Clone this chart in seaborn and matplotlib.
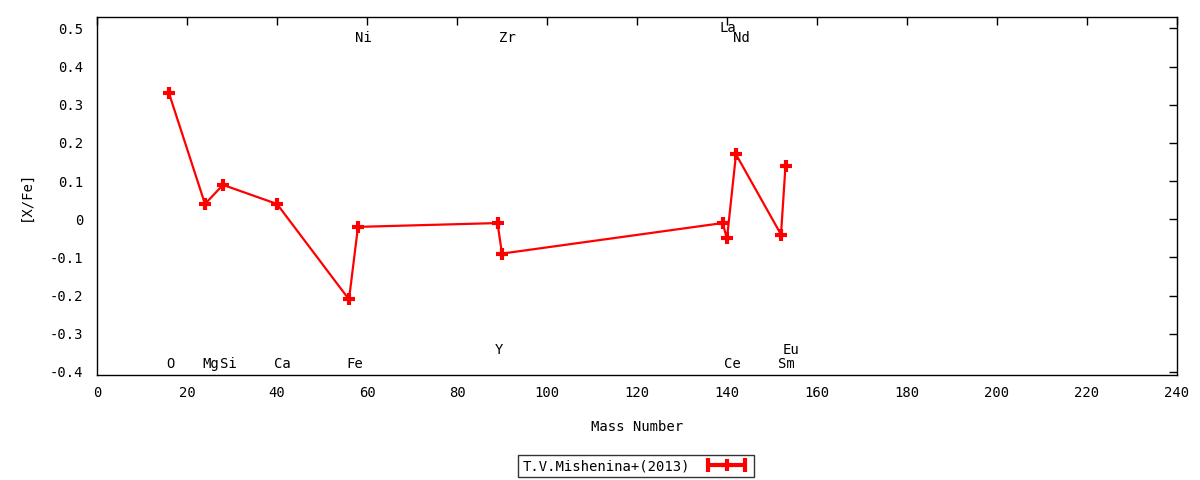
import matplotlib
matplotlib.use("Agg")
import matplotlib.pyplot as plt
import seaborn as sns
import pandas as pd
from matplotlib.lines import Line2D
from matplotlib.legend_handler import HandlerLine2D, HandlerTuple
from matplotlib.ticker import FuncFormatter, MultipleLocator
import matplotlib.transforms as mtrans

elements = ["O", "Mg", "Si", "Ca", "Fe", "Ni", "Y", "Zr", "La", "Ce", "Nd", "Sm", "Eu"]
mass = [16, 24, 28, 40, 56, 58, 89, 90, 139, 140, 142, 152, 153]
xfe = [0.33, 0.04, 0.09, 0.04, -0.21, -0.02, -0.01, -0.09, -0.01, -0.05, 0.17, -0.04, 0.14]
label_y = [-0.378, -0.378, -0.378, -0.378, -0.378, 0.475, -0.342, 0.475, 0.502, -0.378, 0.475, -0.378, -0.342]
series_name = "T.V.Mishenina+(2013)"

sns.set_style("white")
plt.rcParams["font.family"] = ["DejaVu Sans Mono", "DejaVu Sans"]
plt.rcParams["axes.unicode_minus"] = False
plt.rcParams["text.color"] = "black"
plt.rcParams["axes.labelcolor"] = "black"

FS = 10

fig = plt.figure(figsize=(12, 4.8), dpi=100)
ax = fig.add_axes([97 / 1200, 1 - 375 / 480, (1177 - 97) / 1200, (375 - 17.3) / 480])

df = pd.DataFrame({"mass": mass, "xfe": xfe})
sns.lineplot(data=df, x="mass", y="xfe", ax=ax, color="red", linewidth=1.6,
             marker="+", markersize=9, markeredgewidth=3, markeredgecolor="red",
             estimator=None, sort=False, legend=False)

offset = mtrans.offset_copy(ax.transData, fig=fig, x=-3, y=0, units="dots")
for el, m, ly in zip(elements, mass, label_y):
    ax.text(m, ly, el, transform=offset, ha="left", va="center", fontsize=FS, color="black")

ax.set_xlim(0, 240)
ax.set_ylim(-0.408, 0.529)
ax.xaxis.set_major_locator(MultipleLocator(20))
ax.yaxis.set_major_locator(MultipleLocator(0.1))
ax.yaxis.set_major_formatter(FuncFormatter(lambda v, p: "%g" % round(v, 2)))
ax.tick_params(direction="in", length=6, width=1, top=True, right=True,
               labelsize=FS, colors="black")
ax.tick_params(axis="y", pad=10)
ax.tick_params(axis="x", pad=8)
for s in ax.spines.values():
    s.set_color("black")
    s.set_linewidth(1)
ax.set_xlabel("Mass Number", fontsize=FS, labelpad=14, color="black")
ax.set_ylabel("[X/Fe]", fontsize=FS, labelpad=12, color="black")

cap_line = Line2D([], [], color="red", linewidth=3, marker="|", markersize=10, markeredgewidth=3)
plus_line = Line2D([], [], color="red", linewidth=0, marker="+", markersize=9, markeredgewidth=3)
leg = fig.legend([(cap_line, plus_line)], [series_name],
                 handler_map={cap_line: HandlerLine2D(numpoints=2),
                              plus_line: HandlerLine2D(numpoints=1),
                              tuple: HandlerTuple(ndivide=1)},
                 loc="center", bbox_to_anchor=(636 / 1200, 1 - 466 / 480),
                 markerfirst=False, frameon=True, fancybox=False, fontsize=FS,
                 handlelength=3.3, borderpad=0.3, borderaxespad=0,
                 handletextpad=1.0)
leg.get_frame().set_edgecolor("black")
leg.get_frame().set_linewidth(1)
for t in leg.get_texts():
    t.set_color("black")

fig.savefig("out.png", dpi=100)
